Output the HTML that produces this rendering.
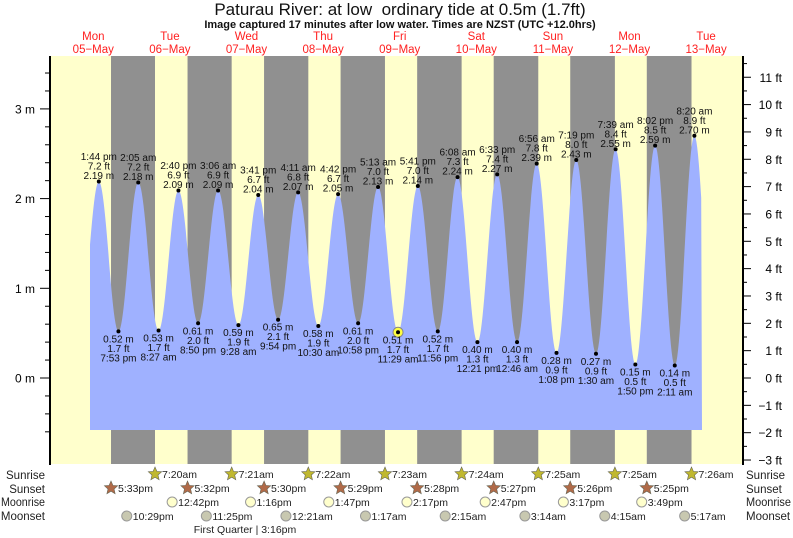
<!DOCTYPE html>
<html><head><meta charset="utf-8"><style>
html,body{margin:0;padding:0;background:#fff;}
svg{display:block;font-family:"Liberation Sans",sans-serif;}
</style></head><body>
<svg id="s" width="793" height="538" viewBox="0 0 793 538" xmlns="http://www.w3.org/2000/svg"></svg>
<script>
const S=document.getElementById('s');let h='';
const M=55,PH=76.6/24;
const X=t=>M+t*PH, Y=m=>378-m*89.7;
const YF=f=>Y(f*0.3048);
h+=`<rect x="50" y="56" width="693" height="408" fill="#ffffcc"/>`;
const ss=[17.55,17.53,17.5,17.48,17.47,17.45,17.43,17.42];
const sr=[7.33,7.35,7.37,7.38,7.4,7.42,7.42,7.43];
for(let d=0;d<8;d++){const a=X(d*24+ss[d]),b=X((d+1)*24+sr[d]);h+=`<rect x="${a}" y="56" width="${b-a}" height="408" fill="#909090"/>`;}
const E=[[13.73,2.19,'1:44 pm','7.2'],[19.88,.52,'7:53 pm','1.7'],[26.08,2.18,'2:05 am','7.2'],[32.45,.53,'8:27 am','1.7'],[38.67,2.09,'2:40 pm','6.9'],[44.83,.61,'8:50 pm','2.0'],[51.1,2.09,'3:06 am','6.9'],[57.47,.59,'9:28 am','1.9'],[63.68,2.04,'3:41 pm','6.7'],[69.9,.65,'9:54 pm','2.1'],[76.18,2.07,'4:11 am','6.8'],[82.5,.58,'10:30 am','1.9'],[88.7,2.05,'4:42 pm','6.7'],[94.97,.61,'10:58 pm','2.0'],[101.22,2.13,'5:13 am','7.0'],[107.48,.51,'11:29 am','1.7'],[113.68,2.14,'5:41 pm','7.0'],[119.93,.52,'11:56 pm','1.7'],[126.13,2.24,'6:08 am','7.3'],[132.35,.40,'12:21 pm','1.3'],[138.55,2.27,'6:33 pm','7.4'],[144.77,.40,'12:46 am','1.3'],[150.93,2.39,'6:56 am','7.8'],[157.13,.28,'1:08 pm','0.9'],[163.32,2.43,'7:19 pm','8.0'],[169.5,.27,'1:30 am','0.9'],[175.65,2.55,'7:39 am','8.4'],[181.83,.15,'1:50 pm','0.5'],[188.03,2.59,'8:02 pm','8.5'],[194.18,.14,'2:11 am','0.5'],[200.33,2.70,'8:20 am','8.9']];
const ext=[[7.58,.52],...E,[206.5,.12]];
const t0=(90-M)/PH,t1=(702-M)/PH;
let p=`M90 430`;
for(let t=t0;t<=t1;t+=0.25){let i=0;while(i<ext.length-2&&ext[i+1][0]<t)i++;const a=ext[i],b=ext[i+1];const f=(t-a[0])/(b[0]-a[0]);const v=a[1]+(b[1]-a[1])*(1-Math.cos(Math.PI*f))/2;p+=` L${X(t).toFixed(1)} ${Y(v).toFixed(1)}`;}
p+=` L702 430 Z`;
h+=`<path d="${p}" fill="#9fb1ff"/>`;
E.forEach((e,i)=>{const x=X(e[0]),y=Y(e[1]);const hi=e[1]>1;
if(i==15)h+=`<circle cx="${x}" cy="${y}" r="5" fill="#ffff40" stroke="#888" stroke-width="1"/>`;
h+=`<circle cx="${x}" cy="${y}" r="2" fill="#000"/>`;
const L=[e[2],e[3]+' ft',e[1].toFixed(2)+' m'];
if(hi){[0,1,2].forEach(k=>h+=`<text x="${x}" y="${y-21.5+k*9.5}" font-size="10" text-anchor="middle" fill="#111">${L[k]}</text>`);}
else{const l=[L[2],L[1],L[0]];[0,1,2].forEach(k=>h+=`<text x="${x}" y="${y+11+k*9.5}" font-size="10" text-anchor="middle" fill="#111">${l[k]}</text>`);}
});
h+=`<line x1="50" y1="56" x2="50" y2="465" stroke="#000" stroke-width="2"/><line x1="743" y1="56" x2="743" y2="465" stroke="#000" stroke-width="2"/>`;
for(let m=-0.6;m<=3.6;m+=0.2){const y=Y(m);if(y<56||y>464)continue;const maj=Math.abs(m-Math.round(m))<0.01;h+=`<line x1="${maj?40:45}" y1="${y}" x2="50" y2="${y}" stroke="#000"/>`;if(maj)h+=`<text x="35" y="${y+4.5}" font-size="12" text-anchor="end">${Math.round(m)} m</text>`;}
for(let f=-3;f<=11.5;f+=0.5){const y=YF(f);if(y<56||y>464)continue;const maj=f%1==0;h+=`<line x1="743" y1="${y}" x2="${maj?751:747}" y2="${y}" stroke="#000"/>`;if(maj)h+=`<text x="782" y="${y+4.5}" font-size="12" text-anchor="end">${f<0?'\u2212'+(-f):f} ft</text>`;}
h+=`<text x="400" y="15" font-size="17" text-anchor="middle" fill="#111">Paturau River: at low\u00a0 ordinary tide at 0.5m (1.7ft)</text>`;
h+=`<text x="400" y="28" font-size="11" font-weight="bold" text-anchor="middle" fill="#111">Image captured 17 minutes after low water. Times are NZST (UTC +12.0hrs)</text>`;
const dn=['Mon','Tue','Wed','Thu','Fri','Sat','Sun','Mon','Tue'];
dn.forEach((d,i)=>{const x=X(i*24+12);h+=`<text x="${x}" y="40" font-size="11.5" text-anchor="middle" fill="#ff2020">${d}</text><text x="${x}" y="53" font-size="11.5" text-anchor="middle" fill="#ff2020">${String(5+i).padStart(2,'0')}\u2212May</text>`;});
const rows=[['Sunrise',479],['Sunset',493],['Moonrise',506],['Moonset',520]];
rows.forEach(r=>{h+=`<text x="45" y="${r[1]}" font-size="11.5" text-anchor="end" fill="#222" textLength="${r[0]=='Moonrise'?44:0}" ${r[0]=='Moonrise'?'lengthAdjust="spacingAndGlyphs"':''}>${r[0]}</text><text x="746" y="${r[1]}" font-size="11.5" fill="#222" ${r[0]=='Moonrise'?'textLength="45" lengthAdjust="spacingAndGlyphs"':''}>${r[0]}</text>`;});
function star(x,y,c){let q='';for(let k=0;k<10;k++){const a=-Math.PI/2+k*Math.PI/5,r=k%2?3.2:7;q+=(k?'L':'M')+(x+r*Math.cos(a)).toFixed(1)+' '+(y+r*Math.sin(a)).toFixed(1);}return `<path d="${q}Z" fill="${c}" stroke="#665" stroke-width="0.6"/>`;}
const srT=['7:20am','7:21am','7:22am','7:23am','7:24am','7:25am','7:25am','7:26am'];
srT.forEach((s,i)=>{const x=X((i+1)*24+sr[i]);h+=star(x,474,'#c0b830')+`<text x="${x+7}" y="478" font-size="10.5" fill="#222">${s}</text>`;});
const ssT=['5:33pm','5:32pm','5:30pm','5:29pm','5:28pm','5:27pm','5:26pm','5:25pm'];
ssT.forEach((s,i)=>{const x=X(i*24+ss[i]);h+=star(x,488,'#b06a48')+`<text x="${x+7}" y="492" font-size="10.5" fill="#222">${s}</text>`;});
const mr=[[36.7,'12:42pm'],[61.27,'1:16pm'],[85.78,'1:47pm'],[110.28,'2:17pm'],[134.78,'2:47pm'],[159.28,'3:17pm'],[183.82,'3:49pm']];
mr.forEach(m=>{const x=X(m[0]);h+=`<circle cx="${x}" cy="502" r="5" fill="#ffffcc" stroke="#999"/><text x="${x+6}" y="506" font-size="10.5" fill="#222">${m[1]}</text>`;});
const ms=[[22.48,'10:29pm'],[47.42,'11:25pm'],[72.35,'12:21am'],[97.28,'1:17am'],[122.25,'2:15am'],[147.23,'3:14am'],[172.25,'4:15am'],[197.28,'5:17am']];
ms.forEach(m=>{const x=X(m[0]);h+=`<circle cx="${x}" cy="516" r="5" fill="#c8c8b0" stroke="#999"/><text x="${x+6}" y="520" font-size="10.5" fill="#222">${m[1]}</text>`;});
h+=`<text x="245" y="533" font-size="10.5" text-anchor="middle" fill="#222">First Quarter | 3:16pm</text>`;
S.innerHTML=h.replace(/textLength="0"/g,'');
</script>
</body></html>
